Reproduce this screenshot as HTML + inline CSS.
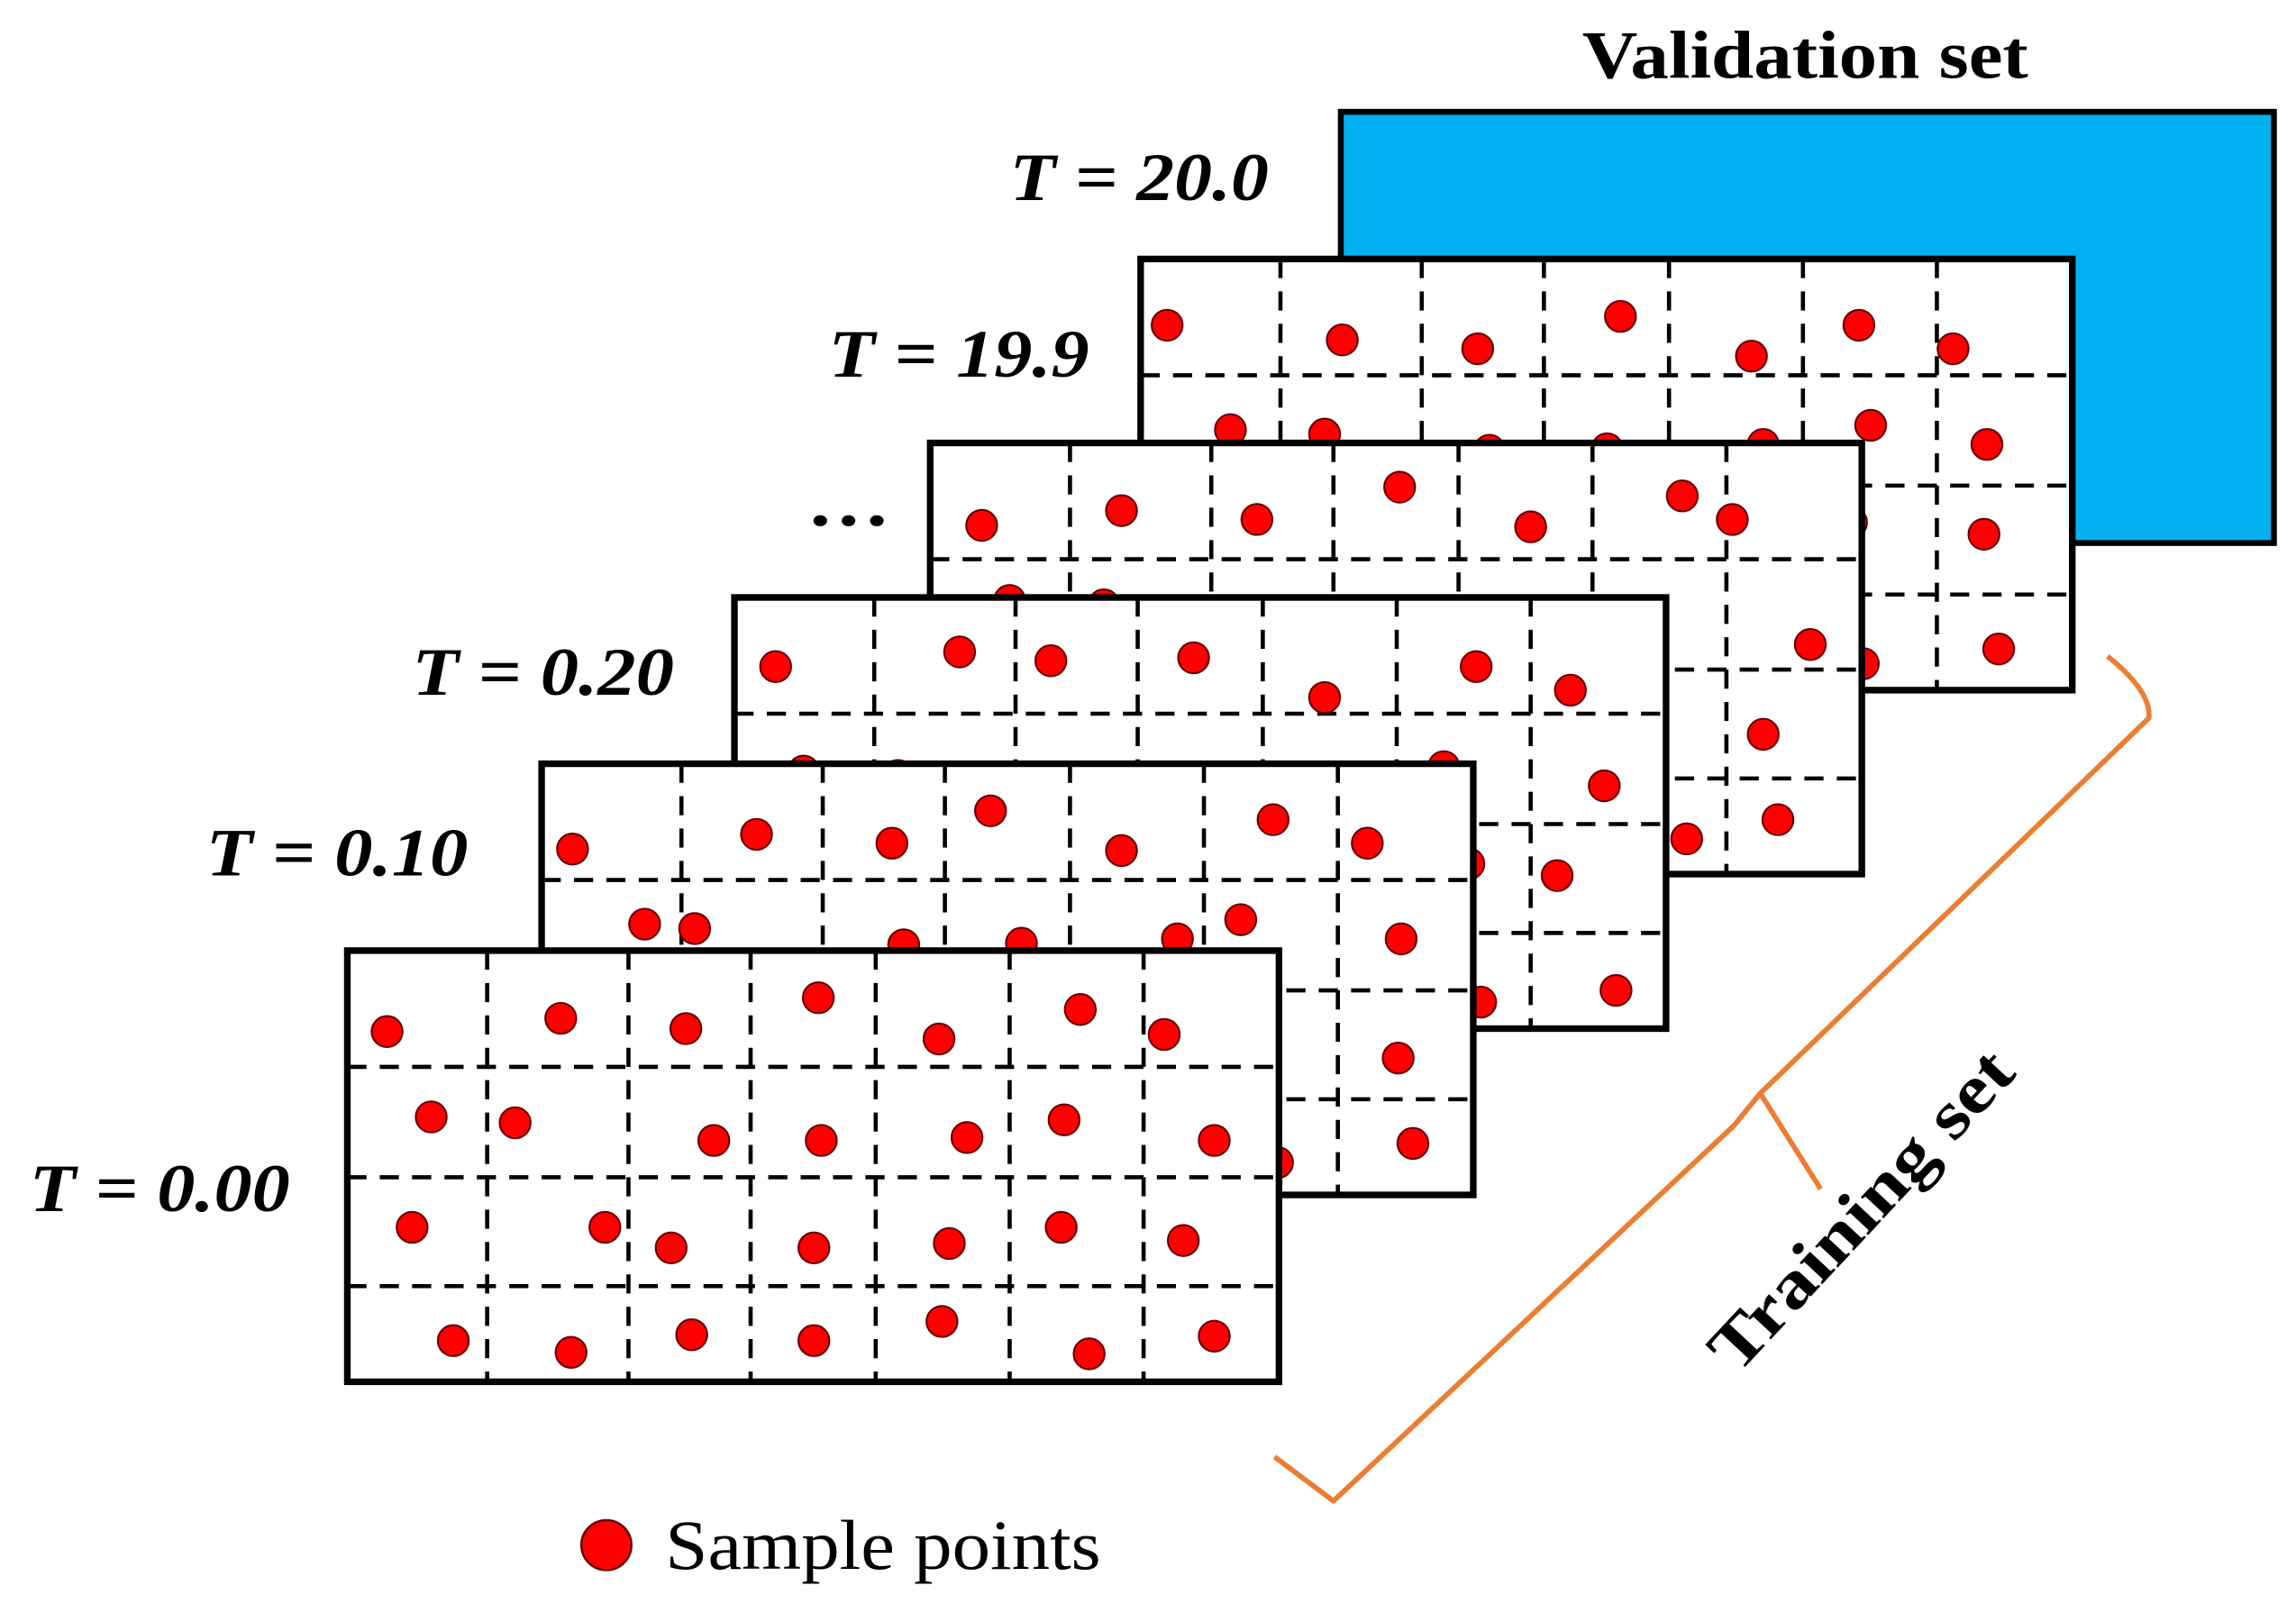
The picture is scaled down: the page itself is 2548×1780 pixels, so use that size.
<!DOCTYPE html>
<html><head><meta charset="utf-8"><style>
html,body{margin:0;padding:0;background:#fff;width:2548px;height:1780px;overflow:hidden}
svg{display:block}
.lab{font-family:"Liberation Serif",serif;font-weight:bold;font-style:italic;font-size:46px;fill:#000}
</style></head><body>
<svg id="s" width="2548" height="1780" viewBox="0 0 1560 1090" preserveAspectRatio="none" xmlns="http://www.w3.org/2000/svg">
<rect x="911" y="76" width="634" height="293" fill="#00B0F0" stroke="#000" stroke-width="4"/>
<g id="frames"></g>
<text x="1075" y="53" font-family="Liberation Serif,serif" font-weight="bold" font-size="46" textLength="303" lengthAdjust="spacingAndGlyphs">Validation set</text>
<text class="lab" x="686" y="136" textLength="176" lengthAdjust="spacingAndGlyphs">T = 20.0</text>
<text class="lab" x="563" y="256" textLength="177" lengthAdjust="spacingAndGlyphs">T = 19.9</text>
<text x="548" y="357" font-family="Liberation Serif,serif" font-weight="bold" font-size="46" textLength="57" lengthAdjust="spacingAndGlyphs">…</text>
<text class="lab" x="280" y="472" textLength="178" lengthAdjust="spacingAndGlyphs">T = 0.20</text>
<text class="lab" x="140" y="595" textLength="178" lengthAdjust="spacingAndGlyphs">T = 0.10</text>
<text class="lab" x="20" y="823" textLength="177" lengthAdjust="spacingAndGlyphs">T = 0.00</text>
<path d="M1432,446 Q1462,470 1460,488 L1196,743 L1237,808 M1196,743 L1178,765 L906,1020 L866,990" fill="none" stroke="#ED7D31" stroke-width="3.5" stroke-linejoin="round"/>
<text transform="translate(1180,935) rotate(-47)" font-family="Liberation Serif,serif" font-weight="bold" font-size="46" textLength="280" lengthAdjust="spacingAndGlyphs">Training set</text>
<circle cx="412" cy="1050" r="17" fill="#f00" stroke="#600" stroke-width="1.5"/>
<text x="452" y="1066" font-family="Liberation Serif,serif" font-size="48" textLength="296" lengthAdjust="spacingAndGlyphs">Sample points</text>
</svg>
<script>
var ns="http://www.w3.org/2000/svg",g=document.getElementById("frames");
var origins=[[775,176],[632,301],[499,406],[368,519],[236,646]];
var cols=[95,191,274,359,450,541],rows=[79,154,228];
var dots=[[263,701],[381,692],[466,699],[556,678],[638,706],[734,686],[791,703],[293,759],[350,763],[485,775],[558,775],[657,773],[723,761],[825,775],[280,834],[411,834],[456,848],[553,848],[645,845],[721,834],[804,843],[308,911],[388,919],[470,907],[553,911],[640,898],[740,920],[825,908]];
function el(n,a){var e=document.createElementNS(ns,n);for(var k in a)e.setAttribute(k,a[k]);g.appendChild(e);return e;}
origins.forEach(function(o,i){
 var x=o[0],y=o[1],w=633,h=293;
 el("rect",{x:x,y:y,width:w,height:h,fill:"#fff",stroke:"none"});
 cols.forEach(function(c){el("line",{x1:x+c,y1:y,x2:x+c,y2:y+h,stroke:"#000","stroke-width":2.8,"stroke-dasharray":"13,9"});});
 rows.forEach(function(r){el("line",{x1:x,y1:y+r,x2:x+w,y2:y+r,stroke:"#000","stroke-width":2.8,"stroke-dasharray":"13,9"});});
 dots.forEach(function(d,j){var dx=d[0]-236,dy=d[1]-646;if(i!=4){dx=(dx+((j*37+i*23)%30)-15);dy=dy+((j*19+i*11)%20)-10;dx=Math.max(18,Math.min(w-18,dx));dy=Math.max(18,Math.min(h-18,dy));}
  el("circle",{cx:x+dx,cy:y+dy,r:10.5,fill:"#f00",stroke:"#600","stroke-width":1.3});});
 el("rect",{x:x,y:y,width:w,height:h,fill:"none",stroke:"#000","stroke-width":4.5});
});
</script>
</body></html>
